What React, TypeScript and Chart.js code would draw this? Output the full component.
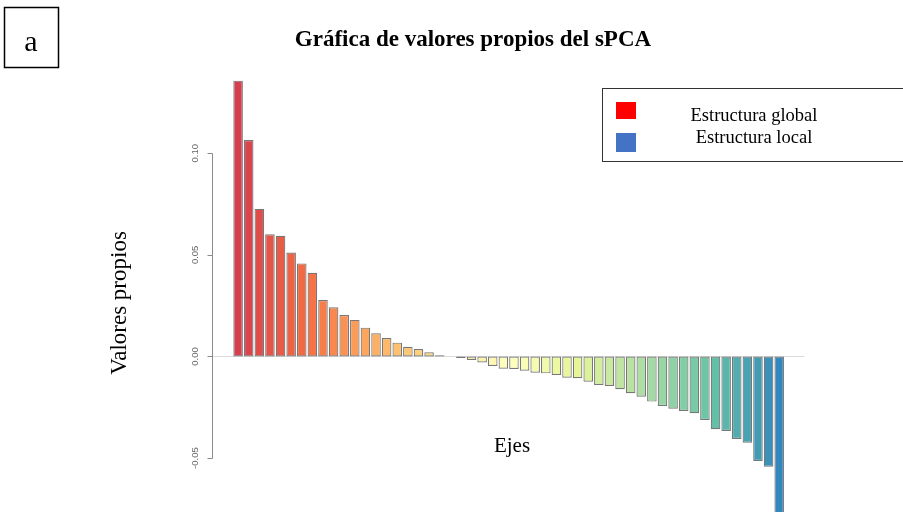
import React, { useEffect, useRef } from "react";
import { Chart, registerables } from "chart.js";

Chart.register(...registerables);

const categories = [
  "1", "2", "3", "4", "5", "6", "7", "8", "9", "10",
  "11", "12", "13", "14", "15", "16", "17", "18", "19", "20",
  "21", "22", "23", "24", "25", "26", "27", "28", "29", "30",
  "31", "32", "33", "34", "35", "36", "37", "38", "39", "40",
  "41", "42", "43", "44", "45", "46", "47", "48", "49", "50",
  "51", "52",
];

const eigenvalues = [
  0.1357, 0.1065, 0.0726, 0.0601, 0.0594, 0.0511, 0.0458, 0.0412, 0.0278, 0.0242,
  0.0204, 0.018, 0.0142, 0.0114, 0.0091, 0.0068, 0.0048, 0.0037, 0.0021, 0.0006,
  0.0, -0.0007, -0.0017, -0.0029, -0.0047, -0.006, -0.0061, -0.007, -0.008, -0.0083,
  -0.0091, -0.0104, -0.0107, -0.0124, -0.014, -0.0145, -0.0161, -0.0181, -0.0198, -0.0222,
  -0.0243, -0.0257, -0.0268, -0.0279, -0.0312, -0.0358, -0.0366, -0.0406, -0.0424, -0.0514,
  -0.0542, -0.085,
];

const yTickValues = [-0.05, 0.0, 0.05, 0.1];
const yTickLabels = ["-0.05", "0.00", "0.05", "0.10"];

const chartTitle = "Gráfica de valores propios del sPCA";
const yAxisTitle = "Valores propios";
const xAxisTitle = "Ejes";
const panelLetter = "a";
const legendLabels = ["Estructura global", "Estructura local"];
const legendColors = ["#ff0000", "#4472c4"];

const spectralStops = [
  "#D53E4F", "#F46D43", "#FDAE61", "#FEE08B", "#FFFFBF",
  "#E6F598", "#ABDDA4", "#66C2A5", "#3288BD",
];

function hexToRgb(h: string) {
  const v = parseInt(h.slice(1), 16);
  return [(v >> 16) & 255, (v >> 8) & 255, v & 255];
}

function rampColors(stops: string[], n: number) {
  const rgb = stops.map(hexToRgb);
  const out: string[] = [];
  for (let i = 0; i < n; i++) {
    const t = (i / (n - 1)) * (stops.length - 1);
    const k = Math.min(Math.floor(t), stops.length - 2);
    const f = t - k;
    const c = rgb[k].map((a, j) => Math.round(a + (rgb[k + 1][j] - a) * f));
    out.push(`rgb(${c[0]},${c[1]},${c[2]})`);
  }
  return out;
}

const SERIF = "'Liberation Serif', 'Times New Roman', serif";
const SANS = "'Liberation Sans', Arial, sans-serif";

const overlayPlugin = {
  id: "overlay",
  beforeDatasetsDraw(chart: any) {
    const { ctx, chartArea, scales } = chart;
    const y0 = Math.round(scales.y.getPixelForValue(0)) + 0.5;
    ctx.save();
    ctx.strokeStyle = "#dcdcdc";
    ctx.lineWidth = 1;
    ctx.beginPath();
    ctx.moveTo(chartArea.left - 21, y0);
    ctx.lineTo(chartArea.right + 20, y0);
    ctx.stroke();
    ctx.restore();
  },
  afterDraw(chart: any) {
    const { ctx, chartArea, scales } = chart;
    const y = scales.y;
    ctx.save();

    // R-style y axis
    const ax = Math.round(chartArea.left - 21) + 0.5;
    const top = y.getPixelForValue(yTickValues[yTickValues.length - 1]);
    const bot = y.getPixelForValue(yTickValues[0]);
    ctx.strokeStyle = "#8a8a8a";
    ctx.lineWidth = 1;
    ctx.beginPath();
    ctx.moveTo(ax, Math.round(top) + 0.5);
    ctx.lineTo(ax, Math.round(bot) + 0.5);
    yTickValues.forEach((v) => {
      const py = Math.round(y.getPixelForValue(v)) + 0.5;
      ctx.moveTo(ax - 5, py);
      ctx.lineTo(ax, py);
    });
    ctx.stroke();

    ctx.fillStyle = "#666666";
    ctx.font = `9.5px ${SANS}`;
    ctx.textAlign = "center";
    ctx.textBaseline = "middle";
    yTickValues.forEach((v, i) => {
      const py = y.getPixelForValue(v);
      ctx.save();
      ctx.translate(ax - 17, py);
      ctx.rotate(-Math.PI / 2);
      ctx.fillText(yTickLabels[i], 0, 0);
      ctx.restore();
    });

    // Title
    ctx.fillStyle = "#000000";
    ctx.font = `bold 23px ${SERIF}`;
    ctx.textAlign = "center";
    ctx.textBaseline = "alphabetic";
    ctx.fillText(chartTitle, 473, 46);

    // X axis title
    ctx.font = `21px ${SERIF}`;
    ctx.fillText(xAxisTitle, 512, 452);

    // Y axis title
    ctx.save();
    ctx.translate(126, 303);
    ctx.rotate(-Math.PI / 2);
    ctx.font = `23px ${SERIF}`;
    ctx.fillText(yAxisTitle, 0, 0);
    ctx.restore();

    // Panel letter box
    ctx.strokeStyle = "#000000";
    ctx.lineWidth = 1.5;
    ctx.strokeRect(4.5, 7.5, 54, 60);
    ctx.font = `30px ${SERIF}`;
    ctx.fillText(panelLetter, 31, 51);

    // Legend box
    ctx.strokeStyle = "#333333";
    ctx.lineWidth = 1;
    ctx.strokeRect(602.5, 88.5, 310, 73);
    ctx.fillStyle = legendColors[0];
    ctx.fillRect(616, 102, 20, 17);
    ctx.fillStyle = legendColors[1];
    ctx.fillRect(616, 133, 20, 19);
    ctx.fillStyle = "#000000";
    ctx.font = `18.5px ${SERIF}`;
    ctx.fillText(legendLabels[0], 754, 121);
    ctx.fillText(legendLabels[1], 754, 143);

    ctx.restore();
  },
};

export default function App() {
  const ref = useRef<HTMLCanvasElement | null>(null);

  useEffect(() => {
    if (!ref.current) return;
    const colors = rampColors(spectralStops, eigenvalues.length);
    const chart = new Chart(ref.current, {
      type: "bar",
      data: {
        labels: categories,
        datasets: [
          {
            data: eigenvalues,
            backgroundColor: colors,
            borderColor: "rgba(95,95,95,0.85)",
            borderWidth: 1.2,
            borderSkipped: false,
            barPercentage: 1,
            categoryPercentage: 0.9,
          },
        ],
      },
      options: {
        animation: false,
        responsive: true,
        maintainAspectRatio: false,
        layout: { padding: { left: 232.8, right: 118.5, top: 71.9, bottom: 0 } },
        plugins: {
          legend: { display: false },
          tooltip: { enabled: false },
          title: { display: false },
        },
        scales: {
          x: { display: false, offset: true },
          y: { display: false, min: -0.0765, max: 0.14 },
        },
      },
      plugins: [overlayPlugin],
    });
    return () => chart.destroy();
  }, []);

  return (
    <div style={{ position: "fixed", left: 0, top: 0, width: 903, height: 512, background: "#ffffff" }}>
      <canvas ref={ref} />
    </div>
  );
}
